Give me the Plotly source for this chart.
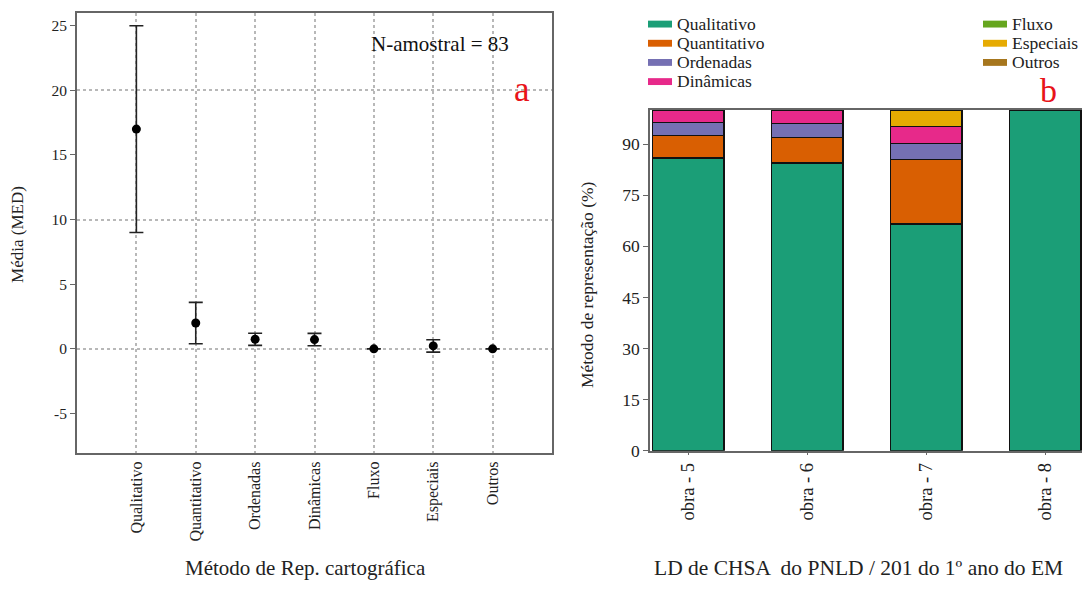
import plotly.graph_objects as go

# Panel a: mean number of cartographic representation methods (with error)
metodos = ["Qualitativo", "Quantitativo", "Ordenadas", "Dinâmicas", "Fluxo", "Especiais", "Outros"]
media = [17.0, 2.0, 0.74, 0.72, 0.0, 0.23, 0.0]
erro = [8.0, 1.6, 0.47, 0.48, 0.0, 0.48, 0.0]

# Panel b: share of each method per textbook (%)
obras = ["obra - 5", "obra - 6", "obra - 7", "obra - 8"]
qualitativo = [86.0, 84.4, 66.5, 100.0]
quantitativo = [6.5, 7.6, 19.0, 0.0]
ordenadas = [3.8, 4.1, 4.7, 0.0]
dinamicas = [3.7, 3.9, 5.0, 0.0]
fluxo = [0.0, 0.0, 0.0, 0.0]
especiais = [0.0, 0.0, 4.8, 0.0]
outros = [0.0, 0.0, 0.0, 0.0]

series_b = [
    ("Qualitativo", qualitativo, "#1B9E77"),
    ("Quantitativo", quantitativo, "#D95F02"),
    ("Ordenadas", ordenadas, "#7570B3"),
    ("Dinâmicas", dinamicas, "#E7298A"),
    ("Fluxo", fluxo, "#66A61E"),
    ("Especiais", especiais, "#E6AB02"),
    ("Outros", outros, "#A6761D"),
]

SERIF = "Liberation Serif"
TXT = "#222222"
W, H = 1084, 590


def px_x(p):
    return p / W


def px_y(p):
    return 1 - p / H


fig = go.Figure()

fig.add_trace(go.Scatter(
    x=list(range(len(metodos))), y=media,
    mode="markers",
    marker=dict(color="black", size=9),
    error_y=dict(type="data", array=erro, visible=True,
                 color="#222222", thickness=1.6, width=7),
    xaxis="x", yaxis="y", showlegend=False,
))

for nome, vals, cor in series_b:
    fig.add_trace(go.Bar(
        x=list(range(len(obras))), y=vals, name=nome,
        marker=dict(color=cor, line=dict(color="#111111", width=1.5)),
        width=0.6, xaxis="x2", yaxis="y2", showlegend=False,
    ))

annotations = [
    dict(text="N-amostral = 83", x=px_x(440), y=px_y(45),
         font=dict(family=SERIF, size=21, color="#111111")),
    dict(text="Método de Rep. cartográfica", x=px_x(305), y=px_y(578),
         font=dict(family=SERIF, size=21, color=TXT)),
    dict(text="LD de CHSA  do PNLD / 201 do 1º ano do EM", x=px_x(858), y=px_y(578),
         font=dict(family=SERIF, size=21.5, color=TXT)),
    dict(text="Média (MED)", x=px_x(18), y=px_y(239), textangle=-90,
         font=dict(family=SERIF, size=17, color=TXT)),
    dict(text="Método de representação (%)", x=px_x(587), y=px_y(290), textangle=-90,
         font=dict(family=SERIF, size=17.5, color=TXT)),
    dict(text="a", x=px_x(522), y=px_y(91),
         font=dict(family=SERIF, size=35, color="#e8141a")),
    dict(text="b", x=px_x(1048), y=px_y(92),
         font=dict(family=SERIF, size=34, color="#e8141a")),
]

# legend: two columns of swatch + label
shapes = []
leg_rows = [24, 43.5, 63, 82.5]
for i, (nome, _, cor) in enumerate(series_b):
    if i < 4:
        sx, row = 648, leg_rows[i]
    else:
        sx, row = 983, leg_rows[i - 4]
    shapes.append(dict(type="rect", xref="paper", yref="paper",
                       x0=px_x(sx), x1=px_x(sx + 24), y0=px_y(row + 4), y1=px_y(row - 3),
                       fillcolor=cor, line=dict(width=0)))
    annotations.append(dict(text=nome, x=px_x(sx + 27), y=px_y(row), xanchor="left",
                            font=dict(family=SERIF, size=17.5, color=TXT)))

for a in annotations:
    a.setdefault("xref", "paper")
    a.setdefault("yref", "paper")
    a.setdefault("showarrow", False)
    a.setdefault("yanchor", "middle")
    a.setdefault("xanchor", "center")

fig.update_layout(
    width=W, height=H,
    margin=dict(l=0, r=0, t=0, b=0),
    paper_bgcolor="white", plot_bgcolor="white",
    barmode="stack",
    showlegend=False,
    font=dict(family=SERIF, size=15, color=TXT),
    xaxis=dict(
        domain=[px_x(77), px_x(552)], range=[-1, 7],
        tickmode="array", tickvals=list(range(len(metodos))), ticktext=metodos,
        tickangle=-90, tickfont=dict(family=SERIF, size=16, color=TXT), ticks="",
        showgrid=True, gridcolor="#b8b8b8", griddash="dot", gridwidth=1.5,
        showline=True, linecolor="#666666", linewidth=2, mirror=True,
        zeroline=False, anchor="y",
    ),
    yaxis=dict(
        domain=[px_y(461), px_y(13)], range=[-8.07, 26.0],
        tickvals=[-5, 0, 5, 10, 15, 20, 25],
        ticktext=["-5", "0", "5", "10", "15", "20", "25"],
        ticks="outside", ticklen=5, tickcolor="#666666",
        tickfont=dict(family=SERIF, size=15.5, color=TXT),
        showgrid=False, zeroline=False,
        minor=dict(tickvals=[0, 10, 20], showgrid=True, gridcolor="#b8b8b8",
                   griddash="dot", gridwidth=1.5, ticks=""),
        showline=True, linecolor="#666666", linewidth=2, mirror=True,
        anchor="x",
    ),
    xaxis2=dict(
        domain=[px_x(650), px_x(1082)], range=[-0.32, 3.31],
        tickmode="array", tickvals=list(range(len(obras))), ticktext=obras,
        tickangle=-90, tickfont=dict(family=SERIF, size=18.5, color=TXT),
        ticks="outside", ticklen=3, tickcolor="#666666",
        showgrid=False, zeroline=False,
        showline=True, linecolor="#666666", linewidth=1.5, mirror=True,
        anchor="y2",
    ),
    yaxis2=dict(
        domain=[px_y(458.5), px_y(112)], range=[0, 100],
        tickvals=[0, 15, 30, 45, 60, 75, 90],
        ticks="outside", ticklen=5, tickcolor="#666666",
        tickfont=dict(family=SERIF, size=17.5, color=TXT),
        showgrid=False, zeroline=False,
        showline=True, linecolor="#666666", linewidth=1.5,
        anchor="x2",
    ),
    annotations=annotations,
    shapes=shapes,
)

fig.write_html("out.html")
